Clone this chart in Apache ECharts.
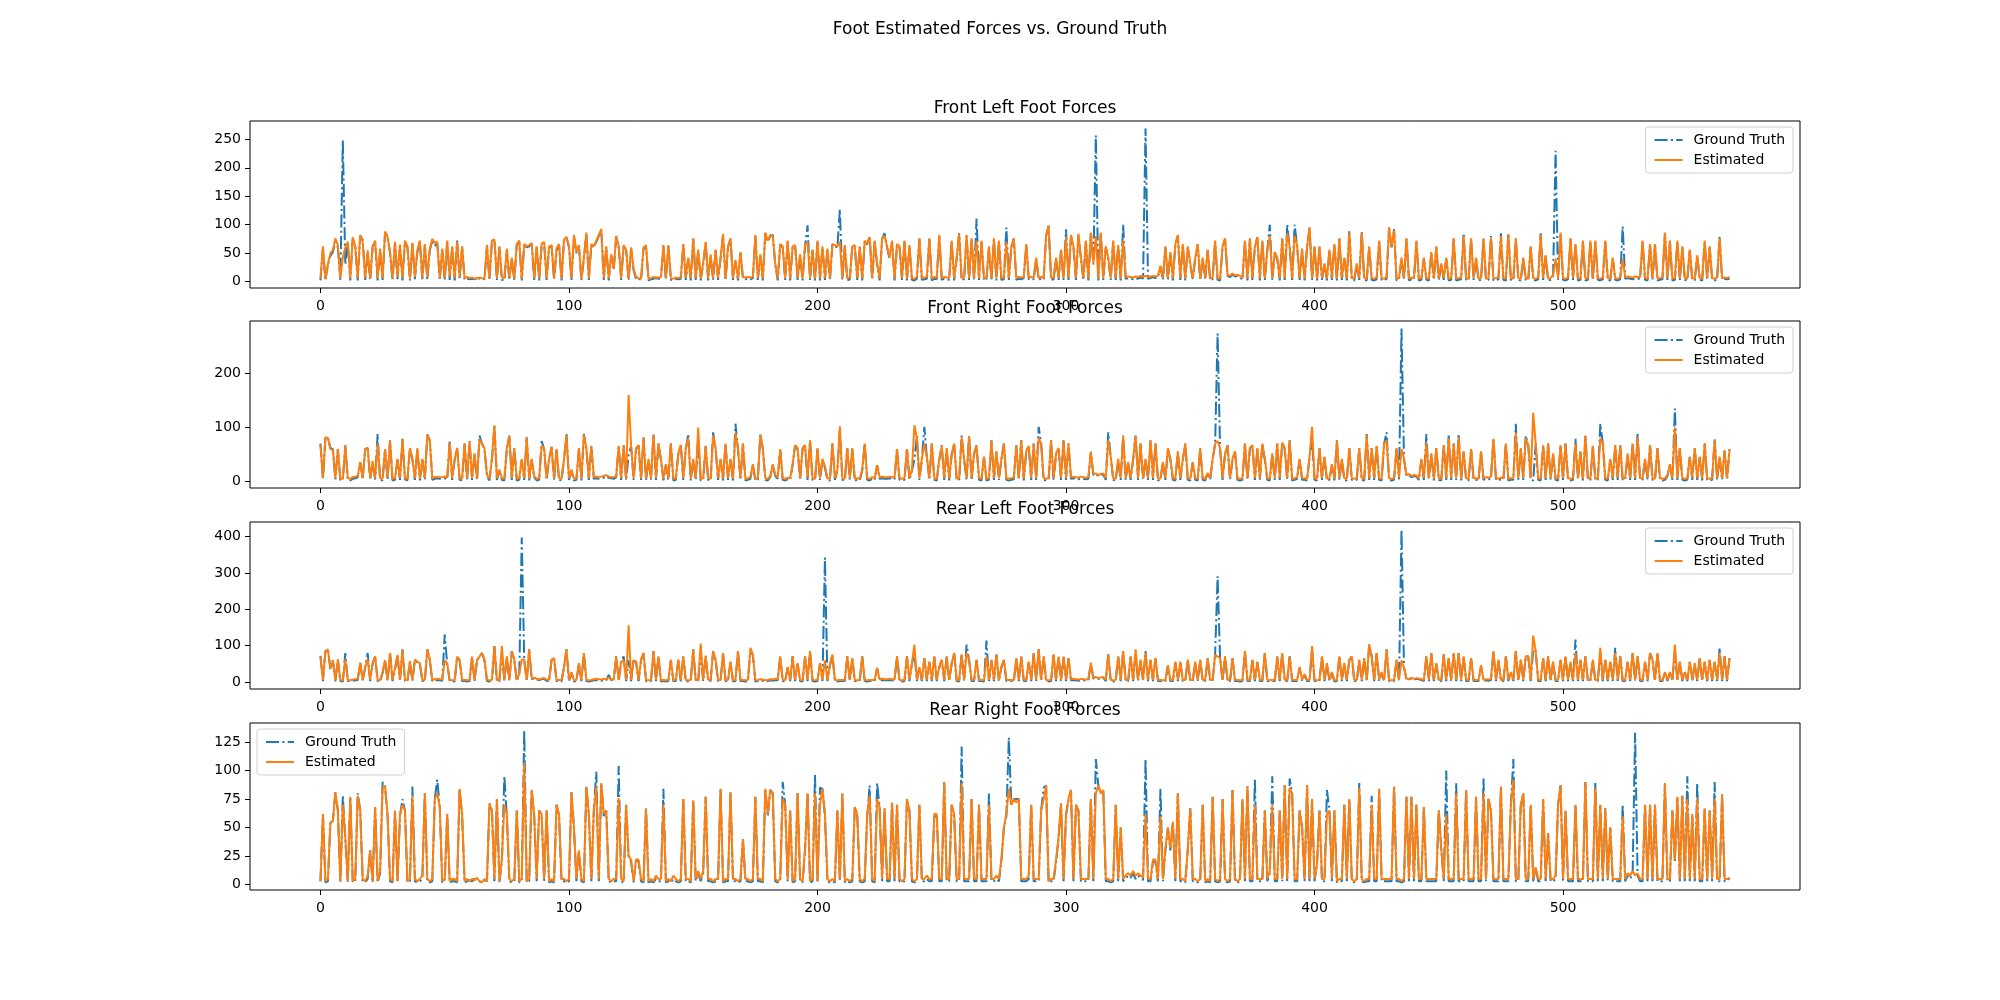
<!DOCTYPE html>
<html>
<head>
<meta charset="utf-8">
<title>Foot Estimated Forces vs. Ground Truth</title>
<script src="https://cdn.jsdelivr.net/npm/echarts@6/dist/echarts.min.js"></script>
<style>
  html, body { margin: 0; padding: 0; background: #fff; }
  #chart { width: 2000px; height: 1000px; }
</style>
</head>
<body>
<div id="chart"></div>
<script>
// front left
const flGt = [
  2,58,2,30,45,52,70,60,3,248,30,68,2,75,60,2,80,74,3,50,
  2,62,70,2,55,3,86,80,50,2,68,4,62,2,70,60,2,66,4,52,
  70,2,64,3,55,72,62,68,2,55,2,70,3,60,2,72,4,60,3,5,
  4,5,4,6,5,5,4,62,2,70,75,3,60,3,2,55,3,40,2,65,
  70,2,65,60,62,66,3,60,2,64,68,3,60,62,3,55,65,2,72,78,
  60,3,80,50,62,2,40,85,3,65,60,70,80,92,3,60,2,45,20,80,
  60,3,62,55,2,58,20,4,5,3,58,62,2,4,5,6,5,5,62,3,
  62,3,2,5,4,5,65,3,40,2,75,3,55,2,30,68,2,45,3,55,
  3,40,82,2,60,75,3,35,2,50,5,4,5,4,6,80,3,45,2,85,
  70,80,82,30,2,65,60,3,70,2,60,62,3,45,2,62,99,3,55,2,
  70,2,60,3,55,2,65,62,60,127,3,62,2,4,60,62,3,60,2,70,
  65,80,3,70,30,2,75,85,60,40,70,2,65,60,3,70,2,62,3,2,
  5,75,3,4,5,75,2,5,4,80,3,5,4,3,70,2,40,85,3,4,
  80,3,75,2,111,3,70,2,4,60,3,75,2,70,3,4,95,3,60,75,
  3,5,4,6,65,4,5,4,40,3,5,3,80,98,3,4,40,3,55,3,
  92,3,80,60,3,82,40,3,70,2,85,30,257,2,85,3,60,40,3,70,
  3,62,2,100,5,6,5,4,6,5,7,5,269,5,6,8,6,7,25,3,
  60,3,50,2,65,80,3,65,2,60,30,3,40,65,2,40,3,55,2,4,
  70,3,2,60,75,10,8,12,9,10,8,3,70,2,75,3,60,78,2,70,
  3,55,100,3,50,40,2,75,3,100,60,3,100,62,3,55,2,60,95,3,
  60,2,60,3,30,2,55,3,65,2,75,3,40,2,90,3,2,30,3,88,
  3,2,60,3,2,4,70,3,2,5,95,60,92,2,3,40,3,75,2,4,
  3,70,2,3,40,3,2,50,3,60,2,30,3,40,2,3,75,2,3,4,
  85,3,2,75,3,40,2,3,75,2,3,80,2,3,4,85,3,2,85,3,
  2,75,3,2,40,3,2,60,3,2,4,85,3,45,2,3,10,230,3,85,
  3,2,4,75,3,65,2,3,70,2,3,70,2,70,3,2,4,70,3,2,
  40,3,2,4,97,5,6,5,4,6,5,5,70,3,2,65,3,65,2,3,
  4,85,3,70,2,3,70,2,60,3,2,55,3,2,45,3,2,70,3,60,
  3,2,4,80,3,5,4,5
];
const flEst = [
  5,62,4,30,50,55,76,64,6,42,60,70,5,78,62,6,82,70,6,55,
  5,60,72,6,58,6,88,78,52,5,70,8,65,6,72,62,5,68,8,55,
  72,6,66,8,58,75,68,70,6,58,6,72,8,62,6,70,8,62,6,8,
  6,7,5,6,7,6,5,64,6,72,74,6,62,7,6,58,6,42,5,66,
  72,5,66,62,64,68,6,62,5,66,70,6,62,64,6,58,66,5,74,78,
  62,6,82,52,64,5,42,86,6,66,62,72,82,92,6,62,5,48,22,80,
  62,6,64,56,5,60,22,8,6,5,60,64,5,6,8,7,7,8,64,6,
  64,6,5,7,6,7,66,6,42,5,76,6,56,5,32,70,5,48,6,56,
  6,42,84,5,62,76,6,38,5,52,8,7,8,7,8,82,6,48,5,86,
  72,82,80,32,5,66,62,6,72,5,62,64,6,48,5,64,70,6,56,5,
  72,5,62,6,58,5,66,64,62,70,6,64,5,7,62,64,6,62,5,72,
  66,78,6,72,32,5,76,80,62,42,72,5,66,62,6,72,5,64,6,5,
  8,76,6,7,8,76,5,8,7,82,6,8,7,6,72,5,42,84,6,7,
  82,6,76,5,72,6,72,5,7,62,6,76,5,72,6,7,70,6,62,76,
  6,8,7,8,66,7,8,7,42,6,8,6,82,98,6,7,42,6,56,6,
  78,6,82,62,6,84,42,6,72,5,86,32,80,5,86,6,62,42,6,72,
  6,64,5,72,8,9,8,7,9,8,10,8,10,8,9,10,9,10,28,6,
  62,6,52,5,66,82,6,66,5,62,32,6,42,66,5,42,6,56,5,7,
  72,6,5,62,76,12,10,14,11,12,10,6,72,5,76,6,62,78,5,72,
  6,56,80,6,52,42,5,76,6,85,62,6,80,64,6,58,5,62,95,6,
  62,5,62,6,32,5,56,6,66,5,76,6,42,5,86,6,5,32,6,86,
  6,5,62,6,5,7,72,6,5,8,95,62,90,5,6,42,6,76,5,7,
  6,72,5,6,42,6,5,52,6,62,5,32,6,42,5,6,76,5,6,7,
  80,6,5,76,6,42,5,6,76,5,6,78,5,6,7,80,6,5,82,6,
  5,76,6,5,42,6,5,62,6,5,7,82,6,46,5,6,12,40,6,86,
  6,5,7,76,6,66,5,6,72,5,6,72,5,72,6,5,7,72,6,5,
  42,6,5,7,40,8,9,8,7,9,8,8,72,6,5,66,6,66,5,6,
  7,86,6,72,5,6,72,5,62,6,5,56,6,5,46,6,5,72,6,62,
  6,5,7,76,6,7,6,8
];
// front right
const frGt = [
  70,3,80,82,62,60,4,60,3,2,67,3,2,5,6,8,36,4,60,62,
  3,35,4,88,3,2,60,3,76,2,3,40,3,79,4,2,62,40,3,60,
  2,40,3,87,76,3,5,6,5,5,6,4,76,3,40,62,3,2,70,3,
  75,3,50,2,85,70,60,10,2,40,104,3,20,3,2,60,85,3,62,2,
  3,40,3,82,2,40,8,2,3,75,60,3,40,64,3,58,3,2,40,88,
  3,20,2,3,60,2,88,60,3,65,5,6,5,6,7,10,7,6,5,8,
  65,3,67,2,50,65,3,60,67,3,82,2,40,3,88,3,70,40,2,30,
  3,70,2,3,50,67,3,60,88,2,40,3,80,2,3,65,3,2,91,60,
  3,40,2,70,3,40,2,107,60,3,70,2,3,5,30,2,3,88,60,3,
  2,8,30,10,5,60,3,2,4,3,30,67,60,3,60,67,3,76,3,2,
  60,3,40,25,3,2,70,3,20,95,3,2,62,3,60,2,3,2,20,70,
  3,2,5,3,30,5,6,5,5,6,5,4,60,3,2,3,60,3,20,40,
  85,3,40,101,45,3,70,3,2,40,67,3,60,2,50,70,3,2,85,40,
  3,85,3,50,67,3,2,45,2,3,76,3,55,3,40,70,3,2,3,4,
  67,3,76,2,55,65,3,70,3,101,70,3,2,3,76,3,50,60,3,76,
  3,70,5,6,5,4,6,5,4,5,55,12,14,10,12,13,3,91,45,3,
  2,40,3,85,3,35,3,40,85,3,70,3,40,3,76,3,70,2,3,35,
  3,60,40,3,2,55,3,40,70,3,2,35,3,2,60,3,2,15,3,40,
  70,274,60,3,50,67,3,40,55,3,2,3,70,3,60,67,3,60,3,70,
  40,3,2,50,3,70,3,72,60,3,76,2,3,5,40,3,3,2,45,80,
  3,2,62,3,45,2,3,30,2,76,3,40,3,2,62,3,2,3,62,3,
  2,88,3,62,3,65,3,2,70,91,3,2,3,62,4,283,42,10,12,8,
  10,9,3,40,3,88,3,50,2,62,3,2,67,3,85,3,70,3,88,2,
  55,3,2,60,3,3,2,55,3,5,4,6,79,3,2,4,3,70,2,3,
  3,107,3,60,3,85,67,3,2,70,3,2,67,3,70,3,50,3,2,67,
  3,70,3,2,3,79,3,55,2,85,3,3,65,3,2,107,70,3,2,40,
  3,67,3,67,3,3,50,3,70,3,88,3,3,40,3,67,3,2,62,3,
  2,3,10,30,3,135,3,62,3,2,3,45,3,62,3,45,2,70,3,2,
  3,79,3,45,3,57,3,60
];
const frEst = [
  68,6,82,80,60,58,6,60,5,5,66,6,5,8,9,10,36,6,60,62,
  6,38,6,70,6,5,60,6,76,5,6,42,6,78,6,5,62,42,6,62,
  5,42,6,86,76,6,8,9,8,8,9,7,72,6,42,62,6,5,70,6,
  74,6,52,5,78,70,62,12,5,42,104,6,22,6,5,62,84,6,62,5,
  6,42,6,82,5,42,10,5,6,66,62,6,42,64,6,60,6,5,42,86,
  6,22,5,6,62,5,86,62,6,66,8,9,8,9,10,12,9,8,8,10,
  66,6,66,5,160,66,6,62,67,6,82,5,42,6,86,6,70,42,5,32,
  6,70,5,6,52,68,6,62,80,5,42,6,100,5,6,66,6,5,85,62,
  6,42,5,70,6,42,5,90,62,6,70,5,6,8,32,5,6,86,62,6,
  5,10,32,12,8,60,6,5,7,6,32,67,62,6,62,67,6,76,6,5,
  62,6,42,28,6,5,70,6,22,102,6,5,62,6,62,5,6,5,22,70,
  6,5,8,6,30,8,9,8,8,9,8,7,60,6,5,6,60,6,22,104,
  80,6,42,70,46,6,70,6,5,42,66,6,62,5,52,70,6,5,82,42,
  6,84,6,52,66,6,5,46,5,6,76,6,56,6,42,70,6,5,6,7,
  66,6,76,5,56,66,6,70,6,80,70,6,5,6,76,6,52,62,6,76,
  6,70,8,9,8,7,9,8,7,8,55,14,15,12,14,15,6,76,46,6,
  5,42,6,84,6,36,6,42,84,6,70,6,42,6,76,6,70,5,6,36,
  6,62,42,6,5,56,6,42,70,6,5,36,6,5,62,6,5,16,6,42,
  70,75,62,6,52,66,6,42,56,6,5,6,70,6,62,67,6,62,6,70,
  42,6,5,52,6,70,6,72,62,6,76,5,6,8,42,6,6,5,46,101,
  6,5,62,6,46,5,6,32,5,76,6,42,6,5,62,6,5,6,62,6,
  5,86,6,62,6,66,6,5,70,76,6,5,6,62,7,60,42,12,14,10,
  12,11,6,42,6,72,6,52,5,62,6,5,67,6,80,6,70,6,82,5,
  56,6,5,60,6,6,5,56,6,8,7,9,79,6,5,7,6,70,5,6,
  6,90,6,62,6,80,67,6,127,70,6,5,67,6,70,6,52,6,5,67,
  6,70,6,5,6,70,6,56,5,85,6,6,66,6,5,80,70,6,5,42,
  6,67,6,67,6,6,52,6,70,6,82,6,6,42,6,67,6,5,62,6,
  5,6,12,32,6,100,6,62,6,5,6,46,6,62,6,46,5,70,6,5,
  6,76,6,46,6,57,6,60
];
// rear left
const rlGt = [
  72,3,85,90,35,60,2,62,3,2,80,3,2,4,5,6,53,3,40,80,
  3,50,71,3,2,25,60,3,80,3,35,75,3,90,3,2,55,3,60,55,
  50,3,3,90,60,3,5,6,5,4,131,50,3,2,2,70,60,3,3,2,
  3,70,3,60,70,80,60,3,2,3,99,2,3,80,3,70,3,85,60,3,
  20,397,60,3,90,8,10,7,6,8,9,4,3,60,66,3,3,2,40,90,
  3,25,2,3,50,3,80,3,2,3,5,6,5,4,6,5,20,6,3,71,
  3,55,71,3,60,3,60,55,3,60,80,3,2,3,85,3,71,2,3,2,
  3,60,3,3,60,2,70,3,2,3,90,3,2,80,3,72,3,3,85,60,
  3,3,80,3,3,55,2,3,85,3,3,2,3,85,75,2,3,5,4,2,
  3,5,4,6,5,71,3,2,40,3,71,3,50,3,2,71,3,85,3,2,
  3,50,3,342,3,45,76,3,2,3,3,3,71,3,65,3,2,3,71,3,
  2,3,3,3,39,5,6,5,5,6,5,4,71,3,2,3,71,3,50,80,
  3,40,3,66,3,55,3,70,3,40,60,3,70,3,50,80,3,2,76,3,
  103,60,3,3,60,3,3,2,114,3,60,3,75,3,40,60,3,3,3,2,
  65,3,70,3,3,55,3,80,3,90,3,70,3,2,3,75,3,70,3,70,
  3,65,5,6,5,4,6,5,4,5,53,10,12,9,11,12,3,76,3,2,
  3,70,3,85,3,3,70,3,75,3,60,3,85,3,60,3,65,3,3,2,
  3,45,3,3,55,3,55,3,3,60,3,3,55,3,60,3,3,65,3,3,
  75,291,65,3,70,3,3,65,3,3,2,3,85,3,3,60,3,55,3,3,
  80,3,2,3,3,70,3,80,3,3,71,3,3,3,40,3,20,3,3,90,
  3,2,3,71,3,50,3,25,2,3,71,3,50,3,60,71,3,3,60,3,
  65,3,103,71,3,80,3,25,3,90,3,2,3,60,3,419,40,8,6,10,
  7,9,8,6,3,71,3,80,3,50,3,3,76,3,65,3,80,3,80,3,
  71,3,3,65,3,3,3,45,3,5,4,6,85,3,60,3,3,71,3,25,
  3,85,3,60,3,71,71,3,90,85,3,3,65,3,71,3,55,3,3,60,
  3,71,3,55,3,117,3,60,3,71,3,3,60,3,3,80,3,60,3,55,
  3,94,3,71,3,3,55,3,80,3,71,3,3,55,3,80,60,3,80,3,
  3,25,3,25,3,85,3,55,3,25,3,55,3,50,3,65,3,55,3,60,
  3,55,3,94,3,71,3,66
];
const rlEst = [
  70,6,85,90,38,60,5,62,6,5,62,6,5,7,8,9,53,6,42,62,
  6,52,71,6,5,28,60,6,80,6,38,75,6,88,6,5,58,6,62,56,
  52,6,6,90,62,6,8,9,8,7,60,52,6,5,5,70,62,6,6,5,
  6,70,6,62,70,80,62,6,5,6,99,5,6,99,6,70,6,85,62,6,
  22,62,62,6,90,10,12,9,8,10,11,7,6,62,66,6,6,5,42,90,
  6,28,5,6,52,6,80,6,5,6,8,9,8,7,9,8,12,9,6,71,
  6,56,60,6,156,6,60,56,6,62,80,6,5,6,85,6,71,5,6,5,
  6,62,6,6,62,5,70,6,5,6,90,6,5,106,6,72,6,6,85,62,
  6,6,80,6,6,56,5,6,85,6,6,5,6,94,75,5,6,8,7,5,
  6,8,7,9,8,71,6,5,42,6,71,6,52,6,5,71,6,85,6,5,
  6,52,6,60,6,48,76,6,5,6,6,6,71,6,66,6,5,6,71,6,
  5,6,6,6,39,8,9,8,8,9,8,7,71,6,5,6,71,6,52,103,
  6,42,6,66,6,56,6,70,6,42,62,6,70,6,52,80,6,5,76,6,
  80,62,6,6,62,6,6,5,70,6,62,6,76,6,42,62,6,6,6,5,
  66,6,70,6,6,56,6,80,6,90,6,70,6,5,6,76,6,70,6,70,
  6,66,8,9,8,7,9,8,7,8,53,12,14,11,13,14,6,76,6,5,
  6,70,6,85,6,6,70,6,90,6,62,6,80,6,62,6,66,6,6,5,
  6,46,6,6,56,6,56,6,6,62,6,6,56,6,62,6,6,66,6,6,
  75,70,66,6,70,6,6,66,6,6,5,6,85,6,6,62,6,56,6,6,
  80,6,5,6,6,70,6,80,6,6,71,6,6,6,42,6,22,6,6,99,
  6,5,6,71,6,52,6,28,5,6,71,6,52,6,62,71,6,6,62,6,
  66,6,103,71,6,80,6,28,6,90,6,5,6,62,6,60,40,10,8,12,
  9,11,10,8,6,71,6,80,6,52,6,6,76,6,66,6,80,6,80,6,
  71,6,6,66,6,6,6,46,6,8,7,9,85,6,62,6,6,71,6,28,
  6,85,6,62,6,71,71,6,128,85,6,6,66,6,71,6,56,6,6,62,
  6,71,6,56,6,80,6,62,6,71,6,6,62,6,6,94,6,62,6,56,
  6,80,6,71,6,6,56,6,80,6,71,6,6,56,6,80,62,6,80,6,
  6,28,6,28,6,103,6,56,6,28,6,56,6,52,6,66,6,56,6,62,
  6,56,6,80,6,71,6,66
];
// rear right
const rrGt = [
  3,62,2,3,54,56,81,65,2,78,40,2,77,2,3,80,65,3,2,5,
  30,2,68,2,10,90,86,60,3,2,65,2,60,75,65,2,3,86,3,2,
  3,5,80,3,2,3,75,92,68,2,3,62,2,3,3,2,84,60,2,3,
  4,3,5,4,3,2,4,3,71,65,3,75,2,20,95,60,3,2,3,65,
  2,3,135,2,3,83,60,3,65,60,3,65,2,3,2,70,60,3,3,2,
  3,81,50,3,30,3,2,86,60,3,65,99,3,89,60,65,3,2,3,3,
  104,3,2,70,25,20,2,22,20,3,2,67,2,3,2,5,3,3,84,2,
  3,2,5,3,2,3,75,3,3,2,74,3,10,3,10,77,3,3,2,3,
  3,84,2,3,3,81,3,3,2,3,40,3,3,2,3,77,3,3,2,84,
  60,83,80,3,2,3,90,70,3,65,2,3,80,3,2,30,80,2,3,96,
  2,85,84,60,3,2,3,2,65,3,80,2,3,2,3,68,60,3,2,3,
  60,87,3,2,89,68,3,67,3,3,72,3,70,3,2,3,75,65,3,2,
  3,70,3,3,5,3,3,60,60,3,3,90,3,3,70,60,3,3,121,3,
  3,3,75,3,3,70,3,3,3,80,3,3,5,3,20,50,60,129,70,75,
  75,75,3,3,3,5,70,3,3,3,65,85,87,2,3,3,20,40,71,3,
  60,75,83,3,70,65,3,3,3,3,75,3,110,87,80,83,3,3,2,3,
  70,3,50,3,5,8,6,10,5,8,6,4,110,3,3,20,20,3,84,3,
  30,50,30,55,3,80,3,3,2,30,67,3,3,2,3,70,2,3,2,77,
  3,2,3,75,3,2,3,83,3,2,3,75,3,86,3,3,92,3,3,3,
  65,3,10,95,3,3,65,3,87,3,93,80,3,3,65,50,3,87,3,75,
  3,18,65,3,3,83,65,3,65,2,3,3,70,3,75,3,2,3,89,3,
  2,3,3,78,3,3,84,3,3,3,3,3,86,3,3,2,3,77,3,77,
  3,70,3,3,68,3,3,3,3,3,65,31,3,100,3,3,3,89,3,3,
  3,83,3,3,3,77,3,3,93,3,75,65,3,3,3,86,3,3,3,70,
  110,3,3,70,80,3,3,70,3,15,3,3,75,3,45,3,3,5,70,87,
  3,65,3,3,3,70,3,3,3,90,3,3,3,89,3,70,3,67,3,50,
  3,3,3,3,70,3,8,5,10,133,8,3,3,70,3,70,3,70,3,3,
  3,89,3,3,65,20,77,3,78,3,95,3,60,3,89,3,3,67,3,65,
  3,90,3,3,79,3,3,6
];
const rrEst = [
  3,62,3,5,54,56,81,65,3,70,42,3,77,3,5,78,65,5,3,8,
  30,3,68,3,12,85,86,62,5,3,65,3,62,70,65,3,5,78,5,3,
  5,8,80,5,3,5,75,80,68,3,5,62,3,5,5,3,84,62,3,5,
  3,5,4,6,3,2,5,3,71,65,5,75,3,22,70,62,5,3,5,65,
  3,5,107,3,5,83,62,5,65,62,5,65,3,5,3,70,62,5,5,3,
  5,81,50,5,30,5,3,86,62,5,65,86,5,89,62,65,5,3,5,5,
  76,5,3,70,25,22,3,22,22,5,3,67,3,5,3,8,5,5,70,3,
  5,3,8,5,3,5,75,5,5,3,74,5,12,5,12,77,5,5,3,5,
  5,84,3,5,5,81,5,5,3,5,40,5,5,3,5,77,5,5,3,84,
  62,83,80,5,3,5,75,70,5,65,3,5,80,5,3,32,80,3,5,80,
  3,70,84,62,5,3,5,3,65,5,80,3,5,3,5,68,62,5,3,5,
  62,78,5,3,75,68,5,67,5,5,72,5,70,5,3,5,75,65,5,3,
  5,70,5,5,8,5,5,62,62,5,5,90,5,5,70,62,5,5,89,5,
  5,5,75,5,5,70,5,5,5,70,5,5,8,5,22,50,62,84,70,75,
  72,75,5,5,5,8,70,5,5,5,65,75,87,3,5,5,22,42,71,5,
  62,75,83,5,70,65,5,5,5,5,75,5,80,87,80,83,5,5,3,5,
  70,5,50,5,8,10,8,12,8,10,8,6,62,5,5,22,22,5,60,5,
  32,50,32,55,5,80,5,5,3,32,67,5,5,3,5,70,3,5,3,77,
  5,3,5,75,5,3,5,83,5,3,5,75,5,86,5,5,70,5,5,5,
  65,5,12,70,5,5,65,5,87,5,85,80,5,5,65,50,5,87,5,75,
  5,18,65,5,5,62,65,5,65,3,5,5,70,5,75,5,3,5,85,5,
  3,5,5,70,5,5,84,5,5,5,5,5,86,5,5,3,5,77,5,77,
  5,70,5,5,68,5,5,5,5,5,65,31,5,62,5,5,5,80,5,5,
  5,83,5,5,5,77,5,5,80,5,75,65,5,5,5,86,5,5,5,70,
  92,5,5,70,80,5,5,70,5,15,5,5,75,5,45,5,5,8,70,87,
  5,65,5,5,5,70,5,5,5,90,5,5,5,85,5,70,5,67,5,50,
  5,5,5,5,60,5,10,8,12,8,10,5,5,70,5,70,5,70,5,5,
  5,89,5,5,65,22,77,5,78,5,75,5,62,5,75,5,5,67,5,65,
  5,75,5,5,79,5,5,6
];

const suptitle = 'Foot Estimated Forces vs. Ground Truth';
const panelTitles = ['Front Left Foot Forces', 'Front Right Foot Forces', 'Rear Left Foot Forces', 'Rear Right Foot Forces'];
const xTicks = [0, 100, 200, 300, 400, 500];
const yTicksFl = [0, 50, 100, 150, 200, 250];
const yTicksFr = [0, 100, 200];
const yTicksRl = [0, 100, 200, 300, 400];
const yTicksRr = [0, 25, 50, 75, 100, 125];

const FONT = 'DejaVu Sans';
const BLUE = '#1f77b4';
const ORANGE = '#ff7f0e';

const panels = [
  { gt: flGt, est: flEst, ticks: yTicksFl, legendLeft: false },
  { gt: frGt, est: frEst, ticks: yTicksFr, legendLeft: false },
  { gt: rlGt, est: rlEst, ticks: yTicksRl, legendLeft: false },
  { gt: rrGt, est: rrEst, ticks: yTicksRr, legendLeft: true }
];

// matplotlib-ish layout, 20x10 in figure at 100 dpi
const gridLeft = 250, gridWidth = 1550, gridHeight = 167;
const gridTops = [121, 321, 522, 723];

const n = flGt.length;
const xPad = 0.05 * (n - 1);

const chart = echarts.init(document.getElementById('chart'), null, { renderer: 'canvas' });

const grid = [], xAxis = [], yAxis = [], series = [], title = [], legend = [];

title.push({
  text: suptitle, left: 1000, top: 21, textAlign: 'center', padding: 0,
  textStyle: { fontFamily: FONT, fontSize: 17, fontWeight: 'normal', color: '#000' }
});

panels.forEach((p, k) => {
  const top = gridTops[k];
  grid.push({
    left: gridLeft, top: top, width: gridWidth, height: gridHeight,
    show: true, borderColor: '#000', borderWidth: 1, backgroundColor: '#fff'
  });

  const all = p.gt.concat(p.est);
  const lo = Math.min(...all), hi = Math.max(...all);
  const pad = 0.05 * (hi - lo);

  xAxis.push({
    type: 'value', gridIndex: k, min: -xPad, max: n - 1 + xPad,
    position: 'bottom',
    splitLine: { show: false },
    axisLine: { show: false, onZero: false },
    axisTick: { show: true, length: 5, inside: false, customValues: xTicks, lineStyle: { color: '#000', width: 1 } },
    axisLabel: { customValues: xTicks, margin: 11, fontFamily: FONT, fontSize: 14, color: '#000' }
  });
  yAxis.push({
    type: 'value', gridIndex: k, min: lo - pad, max: hi + pad,
    position: 'left',
    splitLine: { show: false },
    axisLine: { show: false, onZero: false },
    axisTick: { show: true, length: 5, inside: false, customValues: p.ticks, lineStyle: { color: '#000', width: 1 } },
    axisLabel: { customValues: p.ticks, margin: 9, fontFamily: FONT, fontSize: 14, color: '#000' }
  });

  series.push({
    name: 'Ground Truth', type: 'line', xAxisIndex: k, yAxisIndex: k,
    data: p.gt.map((v, i) => [i, v]),
    showSymbol: false, symbol: 'none', animation: false, z: 2,
    lineStyle: { color: BLUE, width: 2, type: [13, 3.3, 2.1, 3.3] },
    itemStyle: { color: BLUE }
  });
  series.push({
    name: 'Estimated', type: 'line', xAxisIndex: k, yAxisIndex: k,
    data: p.est.map((v, i) => [i, v]),
    showSymbol: false, symbol: 'none', animation: false, z: 3,
    lineStyle: { color: ORANGE, width: 2 },
    itemStyle: { color: ORANGE }
  });

  title.push({
    text: panelTitles[k], left: gridLeft + gridWidth / 2, top: top - 21,
    textAlign: 'center', padding: 0,
    textStyle: { fontFamily: FONT, fontSize: 17, fontWeight: 'normal', color: '#000' }
  });

  const lg = {
    data: ['Ground Truth', 'Estimated'],
    orient: 'vertical', top: top + 6,
    itemWidth: 28, itemHeight: 14, itemGap: 6,
    padding: [6, 8, 6, 8],
    backgroundColor: 'rgba(255,255,255,0.8)',
    borderColor: '#d0d0d0', borderWidth: 1, borderRadius: 3,
    selectedMode: false,
    itemStyle: { opacity: 0 },
    lineStyle: { width: 2 },
    textStyle: { fontFamily: FONT, fontSize: 14, color: '#000', padding: [0, 0, 0, 6] }
  };
  if (p.legendLeft) lg.left = gridLeft + 7; else lg.right = 2000 - (gridLeft + gridWidth) + 7;
  legend.push(lg);
});

chart.setOption({
  backgroundColor: '#fff',
  animation: false,
  title: title,
  legend: legend,
  grid: grid,
  xAxis: xAxis,
  yAxis: yAxis,
  series: series
});
</script>
</body>
</html>
